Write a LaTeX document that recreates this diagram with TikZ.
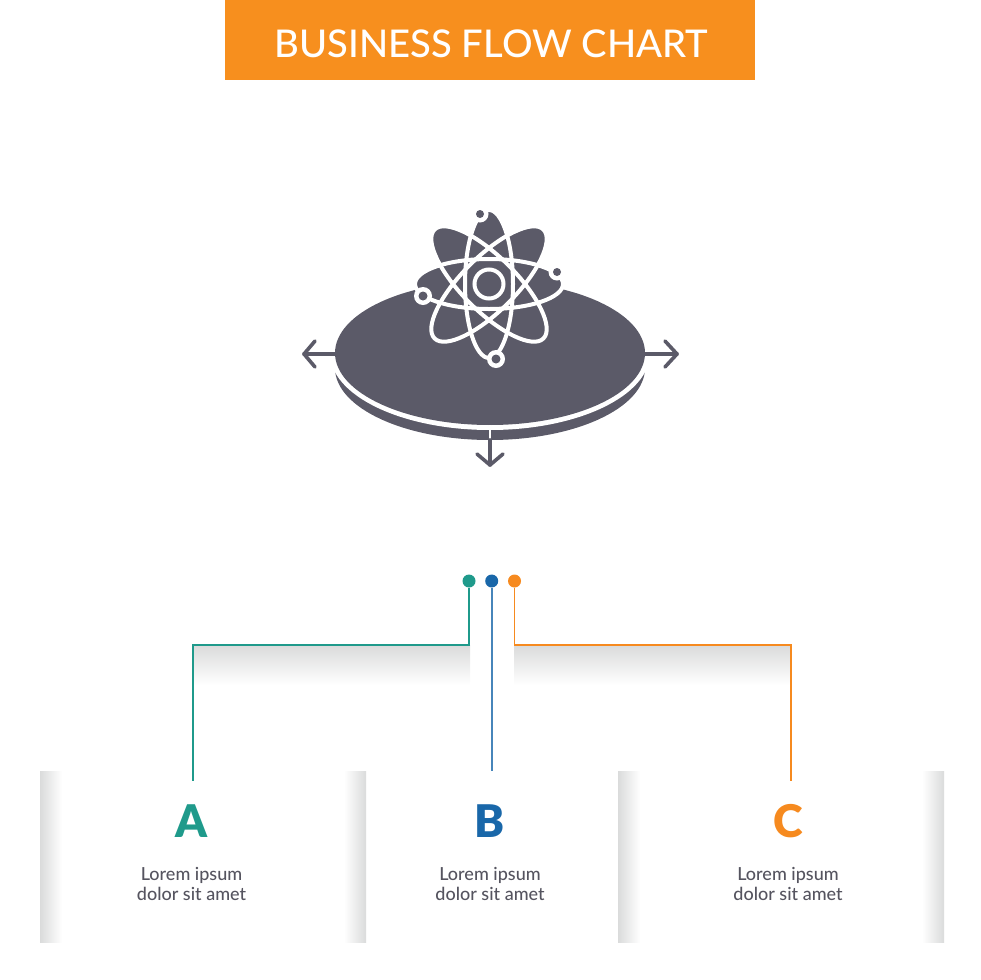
\documentclass[tikz,border=0pt]{standalone}
\usepackage{fontspec}
\setmainfont{Lato}
\newfontfamily\blackfont{Lato Black}
\newfontfamily\mediumfont{Lato Medium}
\usepackage{tikz}
\definecolor{bannerorange}{HTML}{F78F1E}
\definecolor{iconslate}{HTML}{5B5A68}
\definecolor{textslate}{HTML}{55545F}
\definecolor{tealA}{HTML}{1F9A8B}
\definecolor{blueB}{HTML}{1967A9}
\definecolor{orangeC}{HTML}{F68A1F}
\definecolor{shadegrey}{HTML}{DADBDB}
\tikzstyle{banner} = [rectangle, fill=bannerorange, minimum width=530, minimum height=80, inner sep=0pt]
\tikzstyle{bannertext} = [text=white, inner sep=0pt, font=\fontsize{38.2}{40}\selectfont\mediumfont]
\tikzstyle{dot} = [circle, minimum size=13, inner sep=0pt]
\tikzstyle{letter} = [inner sep=0pt, font=\fontsize{45}{50}\selectfont\blackfont]
\tikzstyle{caption} = [inner sep=0pt, align=center, text=textslate, font=\fontsize{18}{20}\selectfont\mediumfont]
\tikzstyle{line} = [draw, line width=1.8]
\tikzstyle{axis} = [draw=iconslate, line width=3.6, line cap=round, line join=round]
\tikzstyle{orbit} = [white, line width=4]

\begin{document}
\begin{tikzpicture}[x=1pt, y=-1pt]
 \useasboundingbox (0,0) rectangle (980,980);
 % Place nodes
   \node[banner] (title) at (490,40) {};
   \node[bannertext] (titletext) at (491.5,44) {BUSINESS FLOW CHART};
   \node[dot, fill=tealA] (dotA) at (469,581) {};
   \node[dot, fill=blueB] (dotB) at (491.7,581) {};
   \node[dot, fill=orangeC] (dotC) at (514.5,581) {};
   \node[letter, text=tealA] (letA) at (191.5,821) {A};
   \node[letter, text=blueB] (letB) at (490,821) {B};
   \node[letter, text=orangeC] (letC) at (788,821) {C};
   \node[caption] (capA) at (191.5,884) {Lorem ipsum\\dolor sit amet};
   \node[caption] (capB) at (490,884) {Lorem ipsum\\dolor sit amet};
   \node[caption] (capC) at (788,884) {Lorem ipsum\\dolor sit amet};
   \coordinate (endA) at (192.7,781);
   \coordinate (endB) at (491.7,771);
   \coordinate (endC) at (791,781);

   % Panels and shadows
   \shade[left color=shadegrey, right color=white] (40,771) rectangle (62,942);
   \shade[left color=white, right color=shadegrey] (344,771) rectangle (366,942);
   \shade[left color=shadegrey, right color=white] (618,771) rectangle (640,942);
   \shade[left color=white, right color=shadegrey] (922,771) rectangle (944,942);
   \shade[top color=shadegrey, bottom color=white] (193,645) rectangle (470,685);
   \shade[top color=shadegrey, bottom color=white] (514,645) rectangle (791,685);

   % Draw edges
   \path [line, draw=tealA] (dotA) |- (endA |- 0,645) -- (endA);
   \path [line, draw=blueB!80!white] (dotB) -- (endB);
   \path [line, draw=orangeC] (dotC) |- (endC |- 0,645) -- (endC);

   % Disc
   \begin{scope}
     \clip (320,368) rectangle (660,450);
     \fill[iconslate] (490,368) ellipse [x radius=155, y radius=72];
   \end{scope}
   \fill[white] (490,353) ellipse [x radius=160, y radius=77];
   \fill[iconslate] (490,353) ellipse [x radius=155, y radius=72];
   \draw[white, line width=2.6] (490,425) -- (490,440);

   % Axes
   \coordinate (west) at (304,354); \coordinate (east) at (677,354); \coordinate (south) at (490,465);
   \path [axis] (335,354) -- (west); \path [axis] (315,341) -- (west) -- (315,367);
   \path [axis] (645,354) -- (east); \path [axis] (665,341) -- (east) -- (665,367);
   \path [axis] (490,440) -- (south); \path [axis] (477,454) -- (south) -- (503,454);

   % Atom
   \coordinate (core) at (489,284);
   \foreach \ang/\rad/\wid in {0/74/25, 90/74/24, 45/77/27, -45/77/27}
     \fill[iconslate, rotate around={\ang:(core)}] (core) ellipse [x radius=\rad, y radius=\wid];
   \foreach \ang/\rad/\wid in {0/74/25, 90/74/24, 45/77/27, -45/77/27}
     \draw[orbit, rotate around={\ang:(core)}] (core) ellipse [x radius=\rad, y radius=\wid];
   \fill[iconslate] (core) circle (14.5);
   \draw[orbit] (core) circle (14.5);
   \foreach \px/\py/\rr in {480/214/4, 557/272/4, 423/296/4.5, 496/359/4.5} {
     \fill[white] (\px,\py) circle (\rr+4.5);
     \fill[iconslate] (\px,\py) circle (\rr);
   }
\end{tikzpicture}
\end{document}
